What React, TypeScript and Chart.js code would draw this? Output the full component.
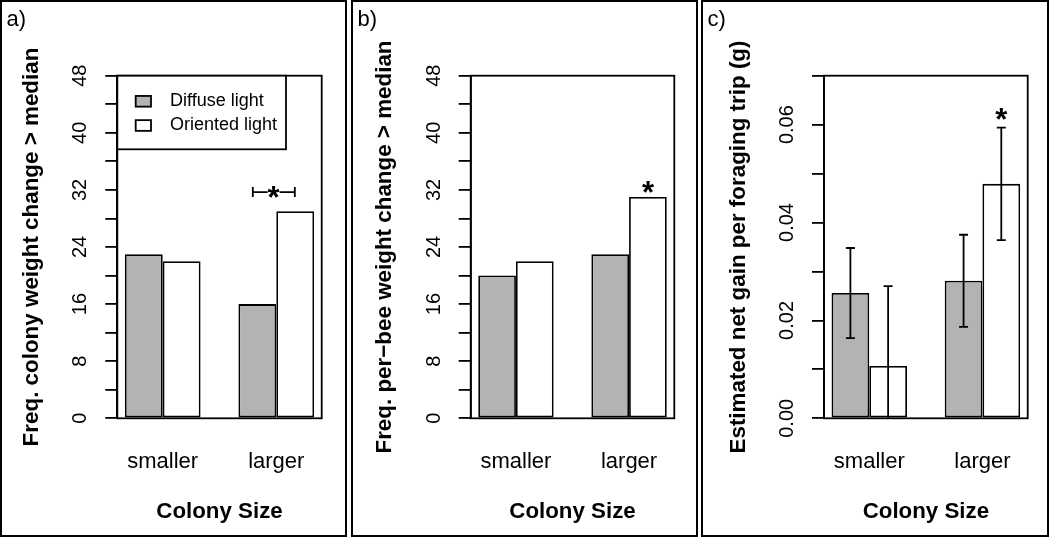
import React, { useEffect, useRef } from 'react';
import { Chart, registerables } from 'chart.js';

Chart.register(...registerables);

// ---------------- data ----------------
const categories = ['smaller', 'larger'];
const seriesLabels = ['Diffuse light', 'Oriented light'];
const xAxisTitle = 'Colony Size';

const colonyDiffuse = [23, 16];
const colonyOriented = [22, 29];

const beeDiffuse = [20, 23];
const beeOriented = [22, 31];

const gainDiffuse = [0.0256, 0.0281];
const gainOriented = [0.0107, 0.0479];
const gainDiffuseSE = [0.0092, 0.0094];
const gainOrientedSE = [0.0163, 0.0115];

const countTickLabels = ['0', '8', '16', '24', '32', '40', '48'];
const gainTickLabels = ['0.00', '0.02', '0.04', '0.06'];

// ---------------- styling / layout ----------------
const FONT = '"Liberation Sans", Arial, Helvetica, sans-serif';
const W = 350;
const H = 539;
const PLOT_TOP = 75.7;
const PLOT_BOTTOM = 418.3;
const FILLS = ['#b3b3b3', '#ffffff'];
const LW = 1.8;

type Mark = { x: number; y: number; x1?: number; x2?: number };

type PanelCfg = {
  tag: string;
  yTitle: string;
  diffuse: number[];
  oriented: number[];
  se?: number[][];
  yMax: number;
  yStep: number;
  yLabels: string[];
  frame: [number, number];
  box: [number, number];
  legend: boolean;
  marks: Mark[];
  left: number;
};

const panels: PanelCfg[] = [
  {
    tag: 'a)',
    yTitle: 'Freq. colony weight change > median',
    diffuse: colonyDiffuse,
    oriented: colonyOriented,
    yMax: 48,
    yStep: 4,
    yLabels: countTickLabels,
    frame: [1, 346],
    box: [117.3, 321.7],
    legend: true,
    marks: [{ x: 4.93, y: 31.7, x1: 4.38, x2: 5.49 }],
    left: 0,
  },
  {
    tag: 'b)',
    yTitle: 'Freq. per\u2212bee weight change > median',
    diffuse: beeDiffuse,
    oriented: beeOriented,
    yMax: 48,
    yStep: 4,
    yLabels: countTickLabels,
    frame: [2, 347],
    box: [120.7, 324.3],
    legend: false,
    marks: [{ x: 5.5, y: 32.4 }],
    left: 350,
  },
  {
    tag: 'c)',
    yTitle: 'Estimated net gain per foraging trip (g)',
    diffuse: gainDiffuse,
    oriented: gainOriented,
    se: [gainDiffuseSE, gainOrientedSE],
    yMax: 0.07,
    yStep: 0.01,
    yLabels: gainTickLabels,
    frame: [2, 348],
    box: [124, 327.7],
    legend: false,
    marks: [{ x: 5.5, y: 0.0621 }],
    left: 700,
  },
];

// group centres in R barplot units (bars width 1, space c(0,1))
const groupX = categories.map((_, i) => 2 + 3 * i);

function inkCenteredText(ctx: CanvasRenderingContext2D, s: string, x: number, y: number, rotate: boolean) {
  ctx.save();
  ctx.translate(x, y);
  if (rotate) ctx.rotate(-Math.PI / 2);
  ctx.textAlign = 'center';
  ctx.textBaseline = 'alphabetic';
  const m = ctx.measureText(s);
  const off = (m.actualBoundingBoxAscent - m.actualBoundingBoxDescent) / 2;
  ctx.fillText(s, 0, off);
  ctx.restore();
}

function makeOverlay(p: PanelCfg) {
  return {
    id: 'overlay_' + p.tag.replace(')', ''),
    afterDraw(chart: any) {
      const ctx: CanvasRenderingContext2D = chart.ctx;
      const a = chart.chartArea;
      const xS = chart.scales.x;
      const yS = chart.scales.y;
      ctx.save();
      ctx.strokeStyle = '#000';
      ctx.fillStyle = '#000';
      ctx.lineCap = 'butt';

      // error bars
      if (p.se) {
        ctx.save();
        ctx.beginPath();
        ctx.rect(a.left, a.top, a.right - a.left, a.bottom - a.top);
        ctx.clip();
        ctx.lineWidth = LW;
        const vals = [p.diffuse, p.oriented];
        for (let d = 0; d < 2; d++) {
          const meta = chart.getDatasetMeta(d);
          vals[d].forEach((v, i) => {
            const bx = meta.data[i].x;
            const yt = yS.getPixelForValue(v + p.se![d][i]);
            const yb = yS.getPixelForValue(v - p.se![d][i]);
            ctx.beginPath();
            ctx.moveTo(bx, yt);
            ctx.lineTo(bx, yb);
            ctx.moveTo(bx - 4.5, yt);
            ctx.lineTo(bx + 4.5, yt);
            ctx.moveTo(bx - 4.5, yb);
            ctx.lineTo(bx + 4.5, yb);
            ctx.stroke();
          });
        }
        ctx.restore();
      }

      // plot box
      ctx.lineWidth = LW;
      ctx.strokeRect(a.left, a.top, a.right - a.left, a.bottom - a.top);

      // legend
      if (p.legend) {
        const lw = 168.7;
        const lh = 73.6;
        ctx.fillStyle = '#fff';
        ctx.fillRect(a.left, a.top, lw, lh);
        ctx.lineWidth = LW;
        ctx.strokeRect(a.left, a.top, lw, lh);
        const rows = [a.top + 25.6, a.top + 49.8];
        ctx.font = '18px ' + FONT;
        rows.forEach((ry, k) => {
          ctx.fillStyle = FILLS[k];
          ctx.fillRect(a.left + 18.4, ry - 5.35, 15.3, 10.7);
          ctx.strokeStyle = '#000';
          ctx.strokeRect(a.left + 18.4, ry - 5.35, 15.3, 10.7);
          ctx.fillStyle = '#000';
          ctx.textAlign = 'left';
          ctx.textBaseline = 'alphabetic';
          ctx.fillText(seriesLabels[k], a.left + 52.7, ry + 4.5);
        });
      }

      // significance marks
      ctx.fillStyle = '#000';
      ctx.strokeStyle = '#000';
      ctx.font = 'bold 31px ' + FONT;
      p.marks.forEach((m) => {
        const mx = xS.getPixelForValue(m.x);
        const my = yS.getPixelForValue(m.y);
        inkCenteredText(ctx, '*', mx, my, false);
        if (m.x1 !== undefined && m.x2 !== undefined) {
          const x1 = xS.getPixelForValue(m.x1);
          const x2 = xS.getPixelForValue(m.x2);
          ctx.lineWidth = LW;
          ctx.beginPath();
          ctx.moveTo(x1, my - 5);
          ctx.lineTo(x1, my + 5);
          ctx.moveTo(x1, my);
          ctx.lineTo(mx - 6, my);
          ctx.moveTo(mx + 6, my);
          ctx.lineTo(x2, my);
          ctx.moveTo(x2, my - 5);
          ctx.lineTo(x2, my + 5);
          ctx.stroke();
        }
      });

      // y tick labels (rotated, as in R)
      ctx.fillStyle = '#000';
      ctx.font = '20px ' + FONT;
      p.yLabels.forEach((s) => {
        const y = yS.getPixelForValue(parseFloat(s));
        inkCenteredText(ctx, s, a.left - 38, y, true);
      });

      // y title
      ctx.font = 'bold 22.4px ' + FONT;
      inkCenteredText(ctx, p.yTitle, a.left - 85, (a.top + a.bottom) / 2, true);

      // category names
      ctx.font = '22px ' + FONT;
      ctx.textAlign = 'center';
      ctx.textBaseline = 'alphabetic';
      categories.forEach((c, i) => {
        ctx.fillText(c, xS.getPixelForValue(groupX[i]), 468);
      });

      // x title
      ctx.font = 'bold 22.3px ' + FONT;
      ctx.fillText(xAxisTitle, (a.left + a.right) / 2, 518);

      // panel tag
      ctx.font = '22px ' + FONT;
      ctx.textAlign = 'left';
      ctx.fillText(p.tag, p.frame[0] + 5.5, 26);

      // panel frame
      ctx.lineWidth = 2;
      ctx.strokeRect(p.frame[0], 1, p.frame[1] - p.frame[0], 535);

      ctx.restore();
    },
  };
}

function Panel({ cfg }: { cfg: PanelCfg }) {
  const ref = useRef<HTMLCanvasElement | null>(null);
  useEffect(() => {
    if (!ref.current) return;
    const barCommon = {
      borderColor: '#000',
      borderWidth: LW,
      borderSkipped: false as const,
      categoryPercentage: 2 / 3,
      barPercentage: 1,
    };
    const chart = new Chart(ref.current, {
      type: 'bar',
      data: {
        datasets: [
          {
            label: seriesLabels[0],
            data: cfg.diffuse.map((v, i) => ({ x: groupX[i], y: v })),
            backgroundColor: FILLS[0],
            ...barCommon,
          },
          {
            label: seriesLabels[1],
            data: cfg.oriented.map((v, i) => ({ x: groupX[i], y: v })),
            backgroundColor: FILLS[1],
            ...barCommon,
          },
        ],
      },
      options: {
        animation: false,
        responsive: false,
        devicePixelRatio: 1,
        layout: {
          padding: { left: 0, right: W - cfg.box[1], top: PLOT_TOP, bottom: H - PLOT_BOTTOM },
        },
        plugins: {
          legend: { display: false },
          tooltip: { enabled: false },
          title: { display: false },
        },
        scales: {
          x: {
            type: 'linear',
            display: false,
            offset: false,
            grid: { offset: false },
            bounds: 'ticks',
            min: 0.8,
            max: 6.2,
            afterBuildTicks: (s: any) => {
              s.ticks = groupX.map((v) => ({ value: v }));
            },
          },
          y: {
            type: 'linear',
            min: 0,
            max: cfg.yMax,
            afterFit: (s: any) => {
              s.width = cfg.box[0];
            },
            ticks: { display: false, stepSize: cfg.yStep },
            grid: {
              drawOnChartArea: false,
              drawTicks: true,
              tickLength: 12,
              color: '#000',
              lineWidth: LW,
            },
            border: { display: true, color: '#000', width: LW },
          },
        },
      } as any,
      plugins: [makeOverlay(cfg)],
    });
    return () => chart.destroy();
  }, [cfg]);
  return (
    <canvas
      ref={ref}
      width={W}
      height={H}
      style={{ position: 'absolute', left: cfg.left, top: 0, width: W, height: H, display: 'block' }}
    />
  );
}

export default function App() {
  return (
    <div style={{ position: 'absolute', left: 0, top: 0, width: 1050, height: 539, background: '#fff' }}>
      {panels.map((p) => (
        <Panel key={p.tag} cfg={p} />
      ))}
    </div>
  );
}
